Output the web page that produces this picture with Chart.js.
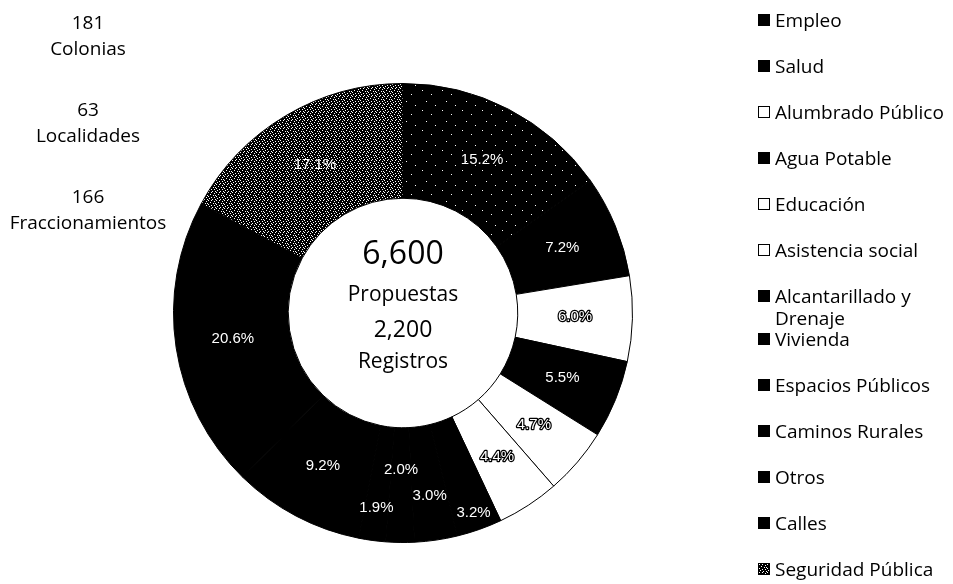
<!DOCTYPE html>
<html>
<head>
<meta charset="utf-8">
<script src="https://cdn.jsdelivr.net/npm/chart.js@4.4.1/dist/chart.umd.min.js"></script>
<style>
  html, body { margin: 0; padding: 0; background: #fff; }
  #wrap { position: relative; width: 953px; height: 584px; overflow: hidden; font-family: "Open Sans", sans-serif; color: #000; }
  #chart { position: absolute; left: 0; top: 0; }
  #notes { position: absolute; left: 0; top: 9px; width: 176px; text-align: center; font-size: 19px; line-height: 26px; }
  #notes .grp { margin-bottom: 35px; }
  #legend { position: absolute; left: 758px; top: 9px; width: 200px; font-size: 19px; line-height: 22px; }
  .item { display: flex; align-items: flex-start; margin-bottom: 24px; }
  .box { width: 12px; height: 12px; box-sizing: border-box; border: 1.5px solid #000; margin-top: 5px; margin-right: 5px; flex: none; }
  .txt { max-width: 176px; }
</style>
</head>
<body>
<div id="wrap">
  <canvas id="chart" width="953" height="584"></canvas>
  <div id="notes"></div>
  <div id="legend"></div>
</div>
<script>
// categorias y porcentajes (en el orden del grafico, sentido horario desde arriba)
const categories = ['Empleo', 'Salud', 'Alumbrado Público', 'Agua Potable', 'Educación', 'Asistencia social',
  'Alcantarillado y Drenaje', 'Vivienda', 'Espacios Públicos', 'Caminos Rurales', 'Otros', 'Calles', 'Seguridad Pública'];
const percents = [15.2, 7.2, 6.0, 5.5, 4.7, 4.4, 3.2, 3.0, 2.0, 1.9, 9.2, 20.6, 17.1];

const totalPropuestas = 6600;
const totalRegistros = 2200;

const noteCounts = [181, 63, 166];
const noteNames = ['Colonias', 'Localidades', 'Fraccionamientos'];

// estilo de cada rebanada
const fillKind = ['light', 'black', 'white', 'black', 'white', 'white',
  'black', 'black', 'black', 'black', 'black', 'black', 'speck'];

function makeTile(rows) {
  const c = document.createElement('canvas');
  c.width = rows[0].length;
  c.height = rows.length;
  const g = c.getContext('2d');
  g.fillStyle = '#000';
  g.fillRect(0, 0, c.width, c.height);
  g.fillStyle = '#fff';
  rows.forEach((row, y) => {
    [...row].forEach((ch, x) => { if (ch === '#') g.fillRect(x, y, 1, 1); });
  });
  return c;
}

const speckTile = makeTile([
  '#..#....',
  '......#.',
  '..#.....',
  '.....#.#',
  '#.......',
  '...#..#.',
  '.#......',
  '....#..#'
]);
const lightTile = makeTile([
  '....................',
  '......#.............',
  '....................',
  '....................',
  '....................',
  '...............#....',
  '....................',
  '....................',
  '....................',
  '....................',
  '..#.................',
  '....................',
  '....................',
  '....................',
  '...........#........',
  '....................',
  '....................',
  '....................',
  '....................',
  '....................'
]);

const ctx = document.getElementById('chart').getContext('2d');
const speckPattern = ctx.createPattern(speckTile, 'repeat');
const lightPattern = ctx.createPattern(lightTile, 'repeat');

function fillFor(kind) {
  if (kind === 'white') return '#fff';
  if (kind === 'speck') return speckPattern;
  if (kind === 'light') return lightPattern;
  return '#000';
}

// notas de la izquierda
const notes = document.getElementById('notes');
noteCounts.forEach((n, i) => {
  const d = document.createElement('div');
  d.className = 'grp';
  d.innerHTML = '<div>' + n + '</div><div>' + noteNames[i] + '</div>';
  notes.appendChild(d);
});

// leyenda
const legend = document.getElementById('legend');
categories.forEach((name, i) => {
  const item = document.createElement('div');
  item.className = 'item';
  const box = document.createElement('span');
  box.className = 'box';
  const kind = fillKind[i];
  if (kind === 'white') box.style.background = '#fff';
  else if (kind === 'speck') box.style.backgroundImage = 'url(' + speckTile.toDataURL() + ')';
  else box.style.background = '#000';
  const txt = document.createElement('span');
  txt.className = 'txt';
  txt.textContent = name;
  item.appendChild(box);
  item.appendChild(txt);
  legend.appendChild(item);
  if (txt.offsetHeight > 30) item.style.marginBottom = '-1px';
});

const sliceLabels = {
  id: 'sliceLabels',
  afterDatasetsDraw(chart, args, opts) {
    const c = chart.ctx;
    const data = chart.data.datasets[0].data;
    chart.getDatasetMeta(0).data.forEach((arc, i) => {
      const p = arc.getProps(['x', 'y', 'startAngle', 'endAngle', 'innerRadius', 'outerRadius'], true);
      const mid = (p.startAngle + p.endAngle) / 2;
      const r = (p.innerRadius + p.outerRadius) / 2 + (opts.nudge[chart.data.labels[i]] || 0);
      const x = p.x + Math.cos(mid) * r;
      const y = p.y + Math.sin(mid) * r;
      const t = data[i].toFixed(1) + '%';
      c.save();
      c.font = '15px "Liberation Sans", Arial, sans-serif';
      c.textAlign = 'center';
      c.textBaseline = 'middle';
      if (fillKind[i] === 'white') {
        c.lineWidth = 2.5;
        c.lineJoin = 'round';
        c.strokeStyle = '#000';
        c.strokeText(t, x, y);
      }
      c.fillStyle = '#fff';
      c.fillText(t, x, y);
      c.restore();
    });
  }
};

const centerText = {
  id: 'centerText',
  afterDatasetsDraw(chart) {
    const a = chart.getDatasetMeta(0).data[0];
    const c = chart.ctx;
    const lines = [
      [totalPropuestas.toLocaleString('en-US'), 32, -58],
      ['Propuestas', 21, -18],
      [totalRegistros.toLocaleString('en-US'), 23, 17],
      ['Registros', 21, 49]
    ];
    c.save();
    c.fillStyle = '#000';
    c.textAlign = 'center';
    c.textBaseline = 'middle';
    lines.forEach(l => {
      c.font = l[1] + 'px "Open Sans", sans-serif';
      c.fillText(l[0], a.x, a.y + l[2]);
    });
    c.restore();
  }
};

new Chart(ctx, {
  type: 'doughnut',
  data: {
    labels: categories,
    datasets: [{
      data: percents,
      backgroundColor: fillKind.map(fillFor),
      borderColor: '#000',
      borderWidth: 1,
      hoverOffset: 0
    }]
  },
  options: {
    responsive: false,
    animation: false,
    cutout: '50%',
    layout: {
      padding: { left: 173, right: 320, top: 83, bottom: 41 }
    },
    plugins: {
      legend: { display: false },
      tooltip: { enabled: false },
      sliceLabels: {
        nudge: { 'Alcantarillado y Drenaje': 40, 'Vivienda': 13, 'Espacios Públicos': -15, 'Caminos Rurales': 25 }
      }
    }
  },
  plugins: [sliceLabels, centerText]
});
</script>
</body>
</html>
